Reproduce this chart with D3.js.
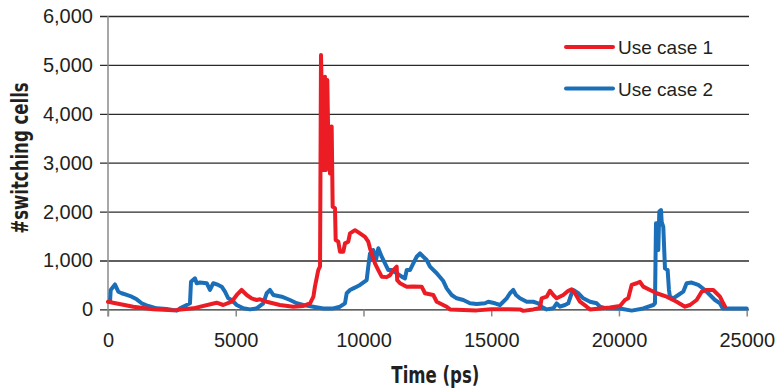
<!DOCTYPE html>
<html>
<head>
<meta charset="utf-8">
<script src="https://cdn.jsdelivr.net/npm/d3@7"></script>
<style>
  body { margin: 0; background: #fff; }
  text { fill: #231f20; }
</style>
</head>
<body>
<figure id="switching-chart" style="margin:0"></figure>
<script>
// Use case 1 (red)
const caseOneTime = [0, 990, 1770, 2560, 3340, 4250, 4510, 4840, 5040, 5230, 5430, 5620, 5820, 5950, 6210, 6730, 7250, 7640, 7910, 8040, 8100, 8230, 8300,
  8337, 8428, 8493, 8533, 8584, 8623, 8662, 8689, 8755, 8794, 8885, 8912, 9014, 9081, 9210, 9276, 9405, 9472, 9668, 9863, 10059, 10188, 10255, 10321, 10450,
  10580, 10713, 10908, 11037, 11167, 11300, 11320, 11429, 11691, 11950, 12278, 12407, 12732, 12866, 13257, 13386, 14431, 15000, 16125, 16254, 16645, 16907,
  16974, 17170, 17300, 17430, 17562, 17820, 18016, 18149, 18278, 18474, 18737, 18866, 19257, 19648, 20040, 20235, 20364, 20497, 20693, 20822, 20952, 21214,
  21476, 21867, 22258, 22583, 22778, 23041, 23237, 23433, 23691, 23953, 24082, 24150];
const caseOneCells = [157, 55, 5, -20, 22, 137, 90, 157, 295, 397, 295, 227, 192, 206, 157, 90, 55, 70, 125, 260, 465, 805, 880,
  5200, 2850, 4760, 2850, 4690, 3460, 3740, 2780, 3740, 2100, 2070, 1420, 1385, 1180, 1180, 1350, 1385, 1555, 1620, 1555, 1485, 1385, 1250, 1145, 940,
  805, 670, 660, 700, 805, 875, 600, 535, 465, 470, 465, 330, 295, 157, 55, 0, -20, 5, 0, -30, 0, 30,
  227, 260, 380, 295, 227, 295, 380, 410, 330, 157, 55, 0, 20, 40, 70, 192, 227, 500, 535, 565, 465, 397,
  330, 260, 157, 55, 90, 192, 362, 397, 397, 260, 125, 60];

// Use case 2 (blue)
const caseTwoTime = [80, 106, 274, 403, 536, 732, 928, 1123, 1319, 1577, 1906, 2297, 2689, 2818, 3080, 3209, 3249, 3405, 3472, 3601, 3863, 3992, 4121,
  4317, 4450, 4579, 4709, 4842, 5037, 5296, 5558, 5820, 6078, 6212, 6341, 6470, 6799, 7124, 7386, 7644, 8035, 8427, 8818, 9080, 9276, 9343, 9472, 9601,
  9734, 9863, 10125, 10188, 10255, 10321, 10384, 10490, 10580, 10713, 10842, 10971, 11104, 11300, 11495, 11625, 11691, 11820, 11950, 12083, 12212, 12341,
  12474, 12603, 12866, 13124, 13257, 13452, 13648, 13907, 14169, 14431, 14756, 14885, 15147, 15343, 15472, 15605, 15734, 15863, 15969, 16126, 16388, 16645,
  16841, 16974, 17170, 17430, 17562, 17691, 17887, 18016, 18149, 18212, 18407, 18603, 18866, 19128, 19257, 19519, 20040, 20497, 20952, 21343, 21410, 21449,
  21500, 21540, 21579, 21646, 21672, 21735, 21801, 21906, 21957, 21996, 22125, 22320, 22516, 22649, 22845, 23104, 23366, 23562, 23758, 23953, 24059, 25000];
const caseTwoCells = [157, 397, 510, 362, 330, 295, 260, 206, 125, 70, 22, 10, -25, 22, 90, 125, 565, 635, 535, 550, 535, 397, 535,
  500, 465, 362, 227, 192, 90, 22, 0, 22, 125, 330, 397, 295, 260, 192, 125, 90, 55, 20, 20, 55, 125, 330, 397, 430,
  465, 500, 600, 875, 1145, 1010, 1215, 1010, 1250, 1077, 940, 805, 805, 740, 670, 635, 805, 805, 940, 1077, 1145, 1077,
  1010, 875, 740, 580, 430, 295, 227, 192, 125, 110, 125, 157, 125, 90, 157, 227, 330, 397, 295, 227, 157, 157,
  125, 55, 0, 22, 125, 55, 90, 125, 330, 397, 330, 227, 157, 125, 55, 22, 20, -25, 20, 90, 125, 1760,
  1760, 1215, 2000, 2030, 1790, 1690, 840, 805, 397, 260, 227, 295, 362, 535, 550, 500, 397, 295, 192, 125, 20, 20];

const yTicks = [0, 1000, 2000, 3000, 4000, 5000, 6000];
const xTicks = [0, 5000, 10000, 15000, 20000, 25000];
const seriesNames = ["Use case 1", "Use case 2"];
const seriesColors = ["#ec1c24", "#1b6fb8"];

const width = 779, height = 388;
const margin = {top: 16, right: 32.3, bottom: 78.6, left: 108};

const svg = d3.select("figure#switching-chart")
  .append("svg")
  .attr("width", width)
  .attr("height", height);

const xScale = d3.scaleLinear()
  .domain([0, 25000])
  .range([margin.left, width - margin.right]);
const yScale = d3.scaleLinear()
  .domain([0, 6000])
  .range([height - margin.bottom, margin.top]);

const tickFont = "'Liberation Sans', Arial, sans-serif";
const titleFont = "'Liberation Sans Narrow', 'DejaVu Sans Condensed', 'Liberation Sans', sans-serif";

// horizontal gridlines + y tick labels
const yAxis = svg.append("g")
  .attr("transform", "translate(100,0)")
  .call(d3.axisLeft(yScale).tickValues(yTicks).tickFormat(d3.format(",")).tickSize(-649).tickPadding(7));
yAxis.select(".domain").remove();
yAxis.selectAll(".tick line").attr("stroke", "#2b2b2b").attr("stroke-width", 1.3);
yAxis.selectAll(".tick text")
  .style("font-family", tickFont).style("font-size", "20px").attr("fill", "#231f20");

// x ticks + labels
const xAxis = svg.append("g")
  .attr("transform", `translate(0,${yScale(0)})`)
  .call(d3.axisBottom(xScale).tickValues(xTicks).tickFormat(d3.format("d")).tickSize(7).tickPadding(16));
xAxis.select(".domain").remove();
xAxis.selectAll(".tick line").attr("stroke", "#888").attr("stroke-width", 1.5);
xAxis.selectAll(".tick text")
  .style("font-family", tickFont).style("font-size", "20px").attr("fill", "#231f20");

// vertical axis line
svg.append("line")
  .attr("x1", xScale(0)).attr("x2", xScale(0))
  .attr("y1", yScale(6000)).attr("y2", yScale(0) + 7)
  .attr("stroke", "#8a8a8a").attr("stroke-width", 1.5);

// axis titles (squeezed sideways to look like the condensed face of the original)
svg.append("text")
  .attr("transform", `translate(${(xScale(0) + xScale(25000)) / 2 + 8},383) scale(0.8,1)`)
  .style("text-anchor", "middle")
  .style("font-family", titleFont).style("font-weight", "bold").style("font-size", "23px")
  .text("Time (ps)");
svg.append("text")
  .attr("transform", "translate(28,158) rotate(-90) scale(0.8,1)")
  .style("text-anchor", "middle")
  .style("font-family", titleFont).style("font-weight", "bold").style("font-size", "23px")
  .text("#switching cells");

const line = d3.line()
  .x(d => xScale(d[0]))
  .y(d => yScale(d[1]));

const series = [
  d3.zip(caseOneTime, caseOneCells),
  d3.zip(caseTwoTime, caseTwoCells)
];

// draw blue first so red sits on top around the big spike, like the reference
[1, 0].forEach(i => {
  svg.append("path")
    .datum(series[i])
    .attr("fill", "none")
    .attr("stroke", seriesColors[i])
    .attr("stroke-width", 4)
    .attr("stroke-linejoin", "round")
    .attr("stroke-linecap", "round")
    .attr("d", line);
});

// legend
const legend = svg.append("g");
seriesNames.forEach((name, i) => {
  const ly = 47 + i * 41.5;
  legend.append("line")
    .attr("x1", 566).attr("x2", 613)
    .attr("y1", ly).attr("y2", ly)
    .attr("stroke", seriesColors[i]).attr("stroke-width", 4).attr("stroke-linecap", "round");
  legend.append("text")
    .attr("x", 618).attr("y", ly + 7)
    .style("font-family", tickFont).style("font-size", "19px")
    .text(name);
});
</script>
</body>
</html>
